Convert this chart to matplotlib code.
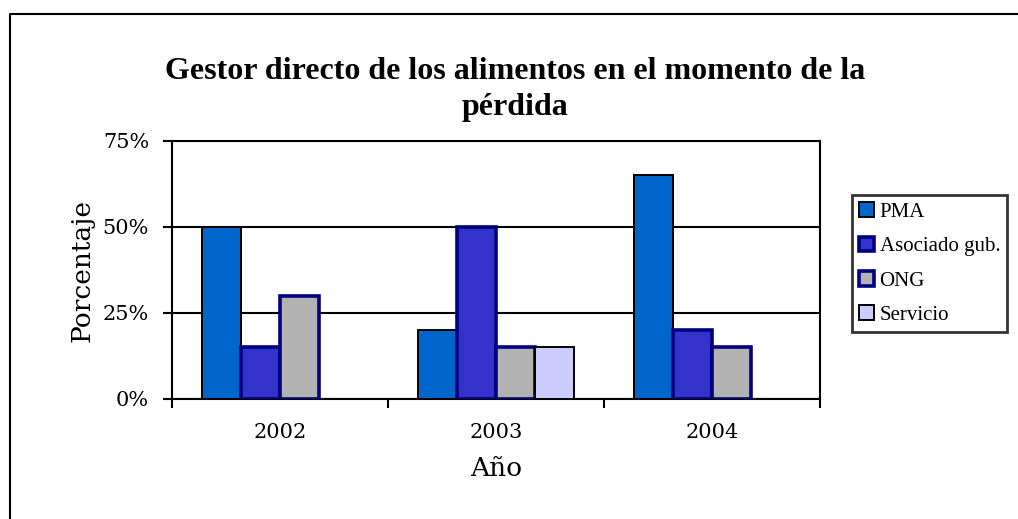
#! /usr/bin/env python3

"""Gestor directo de los alimentos en el momento de la pérdida."""

import matplotlib
matplotlib.use('Agg')
import matplotlib.pyplot as plt
import numpy as np
from matplotlib.lines import Line2D
from matplotlib.ticker import FuncFormatter

years = ['2002', '2003', '2004']
series = ['PMA', 'Asociado gub.', 'ONG', 'Servicio']
pma = [50, 20, 65]
asociado = [15, 50, 20]
ong = [30, 15, 15]
servicio = [0, 15, 0]
y_ticks = [0, 25, 50, 75]

faces = ['#0066CC', '#3333CC', '#B2B2B2', '#CCCCFF']
edges = ['black', '#000080', '#000080', 'black']
widths = [1.4, 2.6, 2.6, 1.4]

SERIF = 'Liberation Serif'
WIDE = 'DejaVu Serif'

W, H = 1018, 519
fig = plt.figure(figsize=(W / 100, H / 100), dpi=100)
ax = fig.add_axes([172 / W, 1 - 399 / H, 648 / W, 258 / H])

x = np.arange(len(years))
bar_w = 0.18
for k, vals in enumerate([pma, asociado, ong, servicio]):
    offs = (k - 1.5) * bar_w
    for xi, v in zip(x, vals):
        if v > 0:
            ax.bar(xi + offs, v, width=bar_w, color=faces[k],
                   edgecolor=edges[k], linewidth=widths[k], zorder=3)

ax.set_xlim(-0.5, 2.5)
ax.set_ylim(0, 75)
ax.set_yticks(y_ticks)
ax.yaxis.set_major_formatter(FuncFormatter(lambda v, p: '%d%%' % v))
ax.grid(axis='y', color='black', linewidth=1.5, zorder=1)

# Ticks between categories, labels at centres
ax.set_xticks([-0.5, 0.5, 1.5, 2.5])
ax.set_xticklabels([])
ax.set_xticks(x, minor=True)
ax.set_xticklabels(years, minor=True)
ax.tick_params(axis='x', which='minor', length=0, pad=17)
ax.tick_params(axis='x', which='major', length=6.5, width=1.5)
ax.tick_params(axis='y', length=6.5, width=1.5, pad=10)

for lab in ax.get_yticklabels() + ax.get_xticklabels(minor=True):
    lab.set_fontfamily(WIDE)
    lab.set_fontsize(15)

for s in ax.spines.values():
    s.set_linewidth(1.5)
    s.set_color('black')

ax.set_ylabel('Porcentaje', family=WIDE, size=19, labelpad=6)
ax.set_xlabel('Año', family=WIDE, size=19, labelpad=10)

fig.text(515 / W, 1 - 115 / H,
         'Gestor directo de los alimentos en el momento de la\npérdida',
         ha='center', va='baseline', family=SERIF,
         weight='bold', size=23, linespacing=1.3)

handles = [plt.Rectangle((0, 0), 1, 1, facecolor=faces[k],
                         edgecolor=edges[k], linewidth=widths[k])
           for k in range(4)]
leg = fig.legend(handles, series, loc='upper left',
                 bbox_to_anchor=(852 / W, 1 - 195 / H),
                 prop=dict(family=SERIF, size=15),
                 frameon=True, fancybox=False, handlelength=0.72,
                 handleheight=0.72, handletextpad=0.25, labelspacing=0.7,
                 borderpad=0.35, borderaxespad=0)
leg.get_frame().set_edgecolor('black')
leg.get_frame().set_linewidth(2.0)

# Outer chart border (top and left visible)
fig.add_artist(Line2D([10 / W, 10 / W, 1.0], [0.0, 1 - 14 / H, 1 - 14 / H],
                      color='black', linewidth=1.5,
                      transform=fig.transFigure))

fig.savefig('out.png', dpi=100)
